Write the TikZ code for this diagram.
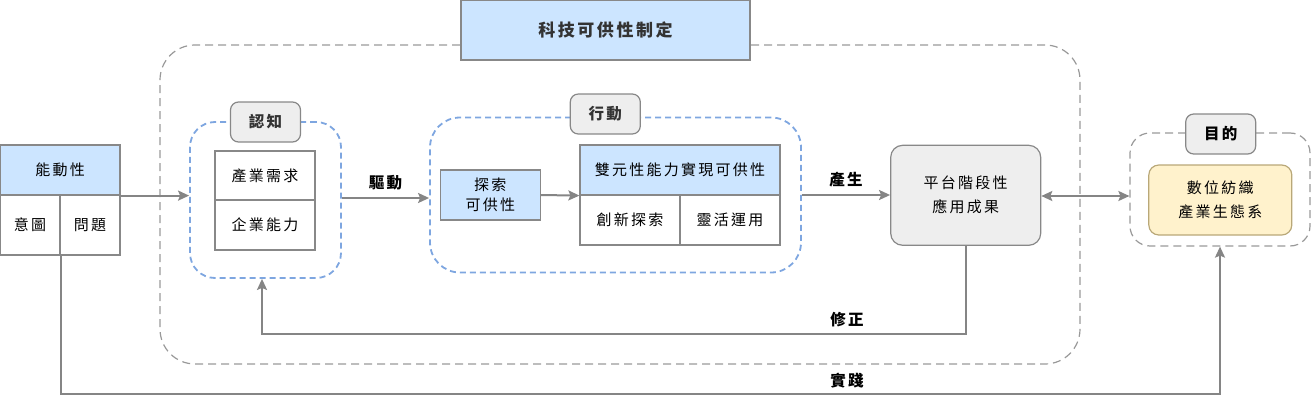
\documentclass[tikz,border=0pt]{standalone}
\usepackage{fontspec}
\setmainfont{Noto Sans CJK TC}[LetterSpace=15]
\usetikzlibrary{arrows.meta}
\definecolor{bluefill}{HTML}{CCE5FF}
\definecolor{grayfill}{HTML}{EEEEEE}
\definecolor{yellowfill}{HTML}{FFF2CC}
\definecolor{yellowline}{HTML}{B9A878}
\definecolor{linegray}{HTML}{888888}
\definecolor{arrgray}{HTML}{858585}
\definecolor{dashblue}{HTML}{7EA6E0}
\definecolor{dashgray}{HTML}{999999}
\definecolor{labeltext}{HTML}{333333}
\newcommand{\txt}{\fontsize{15}{20}\selectfont}
\newcommand{\btxt}{\fontsize{15.5}{19}\selectfont\bfseries}
\newcommand{\ttxt}{\fontsize{17}{20}\selectfont\bfseries}
\begin{document}
\begin{tikzpicture}[x=1pt,y=-1pt,
  cellbox/.style={draw=linegray, line width=1.2pt, inner sep=0pt, align=center, font=\txt},
  bluecell/.style={cellbox, fill=bluefill},
  whitecell/.style={cellbox, fill=white},
  tagbox/.style={draw=linegray, line width=1.2pt, fill=grayfill, rounded corners=8pt, inner sep=0pt,
     minimum width=70, minimum height=40, font=\btxt, text=labeltext},
  bluegroup/.style={draw=dashblue, line width=1.8pt, dash pattern=on 6pt off 4pt, inner sep=0pt},
  graygroup/.style={draw=dashgray, line width=1.2pt, dash pattern=on 8pt off 5pt, inner sep=0pt},
  arr/.style={draw=arrgray, line width=2pt, -{Stealth[length=11pt,width=10pt,inset=2pt]}},
  darr/.style={draw=arrgray, line width=2pt, {Stealth[length=11pt,width=10pt,inset=2pt]}-{Stealth[length=11pt,width=10pt,inset=2pt]}},
  elabel/.style={font=\btxt, inner sep=1pt}
]
\useasboundingbox (0,0) rectangle (1312,404);

% outer group
\node[graygroup, rounded corners=35pt, minimum width=920, minimum height=319] (outer) at (620,204.5) {};
\node[bluecell, minimum width=289, minimum height=60, font=\ttxt, text=labeltext] (title) at (605.5,30) {科技可供性制定};

% left table
\node[bluecell, minimum width=120, minimum height=50] (agency) at (60,170) {能動性};
\node[whitecell, minimum width=60, minimum height=60] (intent) at (30,225) {意圖};
\node[whitecell, minimum width=60, minimum height=60] (problem) at (90,225) {問題};

% cognition group
\node[bluegroup, rounded corners=25pt, minimum width=151, minimum height=156] (cog) at (265.5,200) {};
\node[tagbox] (cogtag) at (265.5,122) {認知};
\node[whitecell, minimum width=100, minimum height=49] (demand) at (265,175.5) {產業需求};
\node[whitecell, minimum width=100, minimum height=50] (ability) at (265,225) {企業能力};

% action group
\node[bluegroup, rounded corners=30pt, minimum width=371, minimum height=155] (act) at (615.5,195) {};
\node[tagbox] (acttag) at (605.3,114) {行動};
\node[bluecell, minimum width=100, minimum height=50] (explore) at (490.3,195) {探索\\可供性};
\node[bluecell, minimum width=200, minimum height=50] (dual) at (680,170) {雙元性能力實現可供性};
\node[whitecell, minimum width=100, minimum height=50] (innov) at (630,220) {創新探索};
\node[whitecell, minimum width=100, minimum height=50] (flex) at (730,220) {靈活運用};

% platform outcome
\node[draw=linegray, line width=1.2pt, fill=grayfill, rounded corners=12pt, minimum width=150, minimum height=100,
      align=center, font=\txt, inner sep=0pt] (plat) at (965.7,195.3) {平台階段性\\[4pt]應用成果};

% goal group
\node[graygroup, rounded corners=20pt, minimum width=180, minimum height=113] (goal) at (1220,189.5) {};
\node[tagbox, text=black] (goaltag) at (1220.7,134) {目的};
\node[draw=yellowline, line width=1.2pt, fill=yellowfill, rounded corners=10pt, minimum width=143, minimum height=70,
      align=center, font=\txt, inner sep=0pt] (eco) at (1220.3,200) {數位紡織\\[4pt]產業生態系};

% connectors
\draw[arr] (agency.south east) -- (agency.south east -| cog.west);
\draw[arr] (cog.east |- 0,198) -- (act.west |- 0,198) node[elabel, midway, above=6pt] {驅動};
\draw[arr] (explore.east) -- (dual.south west);
\draw[arr] (act.east) -- (act.east -| plat.west) node[elabel, midway, above=6pt] {產生};
\draw[darr] (plat.east |- 0,196) -- (goal.west |- 0,196);

\coordinate (fixc) at (262,334);
\draw[arr] (plat.south) |- (fixc) -- (fixc |- cog.south);
\node[elabel] (fixlabel) at (847,320) {修正};

\coordinate (prac) at (60,394);
\draw[arr] (intent.south east) |- (goal.south |- prac) -- (goal.south);
\node[elabel] (praclabel) at (847,381) {實踐};
\end{tikzpicture}
\end{document}
